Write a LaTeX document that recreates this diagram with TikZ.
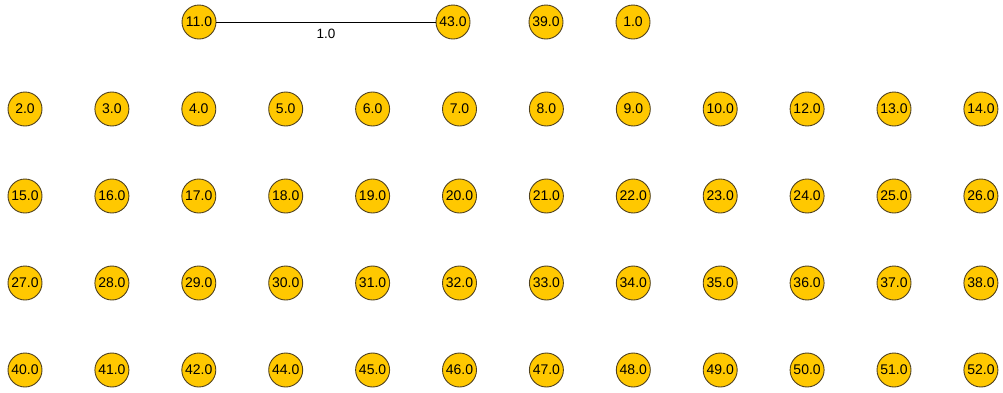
\documentclass[tikz,border=0pt]{standalone}
\usepackage{fontspec}
\setmainfont{Liberation Sans}
\definecolor{nodefill}{RGB}{255,200,0}
\definecolor{nodeline}{RGB}{80,65,30}
\begin{document}
\begin{tikzpicture}[x=1pt,y=-1pt,
  vertex/.style={circle,draw=nodeline,fill=nodefill,line width=0.9pt,minimum size=34pt,inner sep=0pt,font=\fontsize{14}{14}\selectfont},
  edgelabel/.style={font=\fontsize{13.5}{14}\selectfont,inner sep=1pt}]
\useasboundingbox (0,0) rectangle (1003,392);
% top row
\node[vertex] (n11) at (199,22) {11.0};
\node[vertex] (n43) at (453,22) {43.0};
\node[vertex] (n39) at (546,22) {39.0};
\node[vertex] (n1) at (633,22) {1.0};
\draw[line width=0.9pt] (n11) -- node[edgelabel,below=6pt] {1.0} (n43);
% grid rows
\foreach \lab [count=\i from 0] in {2.0,3.0,4.0,5.0,6.0,7.0,8.0,9.0,10.0,12.0,13.0,14.0}
  \node[vertex] (r1c\i) at (25+86.9*\i,109) {\lab};
\foreach \lab [count=\i from 0] in {15.0,16.0,17.0,18.0,19.0,20.0,21.0,22.0,23.0,24.0,25.0,26.0}
  \node[vertex] (r2c\i) at (25+86.9*\i,196) {\lab};
\foreach \lab [count=\i from 0] in {27.0,28.0,29.0,30.0,31.0,32.0,33.0,34.0,35.0,36.0,37.0,38.0}
  \node[vertex] (r3c\i) at (25+86.9*\i,283) {\lab};
\foreach \lab [count=\i from 0] in {40.0,41.0,42.0,44.0,45.0,46.0,47.0,48.0,49.0,50.0,51.0,52.0}
  \node[vertex] (r4c\i) at (25+86.9*\i,370) {\lab};
\end{tikzpicture}
\end{document}
